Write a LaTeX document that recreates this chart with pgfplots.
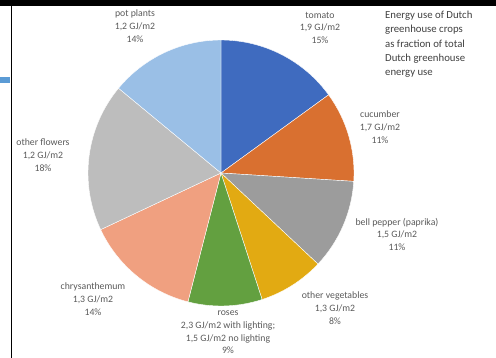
\documentclass[border=0pt]{standalone}
\usepackage{pgfplots}
\pgfplotsset{compat=1.18}
\usepackage{fontspec}
\setmainfont{Carlito}
\definecolor{cTom}{HTML}{3F6BBF}
\definecolor{cCuc}{HTML}{D97030}
\definecolor{cPep}{HTML}{9C9C9C}
\definecolor{cVeg}{HTML}{E2AA12}
\definecolor{cRos}{HTML}{63A040}
\definecolor{cChr}{HTML}{F0A080}
\definecolor{cFlo}{HTML}{BDBDBD}
\definecolor{cPot}{HTML}{9ABFE6}
\definecolor{lab}{HTML}{5A5A5A}
\definecolor{ttl}{HTML}{404040}
\definecolor{sidebar}{HTML}{5B9BD5}
\begin{document}
\begin{tikzpicture}
\begin{axis}[
  width=496bp, height=358bp, scale only axis,
  xmin=0, xmax=496, ymin=0, ymax=358, y dir=reverse,
  hide axis, clip=false,
]
% frame elements
\fill[black] (axis cs:0,0) rectangle (axis cs:496,6);
\fill[black] (axis cs:10.8,6) rectangle (axis cs:12.2,358);
\fill[sidebar] (axis cs:0,77) rectangle (axis cs:10,83);
% pie: cumulative shares in percent, clockwise from 12 o'clock
% tomato 15, cucumber 11, bell pepper 11, other veg 8, roses 9, chrysanthemum 14, other flowers 18, pot plants 14
\def\R{133bp}
\newcommand\slice[3]{%
  \fill[#3, draw=white, line width=0.4pt] (axis cs:221,173) -- ++({90-3.6*(#1)}:\R)
     arc[start angle={90-3.6*(#1)}, end angle={90-3.6*(#2)}, radius=\R] -- cycle;}
\slice{0}{15}{cTom}
\slice{15}{26}{cCuc}
\slice{26}{37}{cPep}
\slice{37}{45}{cVeg}
\slice{45}{54}{cRos}
\slice{54}{68}{cChr}
\slice{68}{86}{cFlo}
\slice{86}{100}{cPot}
% labels
\tikzset{lbl/.style={text=lab, font=\fontsize{9.8}{12.6}\selectfont, align=center, anchor=north, inner sep=0pt}}
\node[lbl] at (axis cs:135,10) {pot plants\\1,2 GJ/m2\\14\%};
\node[lbl] at (axis cs:320,12) {tomato\\1,9 GJ/m2\\15\%};
\node[lbl] at (axis cs:380,111) {cucumber\\1,7 GJ/m2\\11\%};
\node[lbl] at (axis cs:397,218) {bell pepper (paprika)\\1,5 GJ/m2\\11\%};
\node[lbl] at (axis cs:335,292) {other vegetables\\1,3 GJ/m2\\8\%};
\node[lbl] at (axis cs:228,311) {roses\\2,3 GJ/m2 with lighting;\\1,5 GJ/m2 no lighting\\9\%};
\node[lbl] at (axis cs:93,283) {chrysanthemum\\1,3 GJ/m2\\14\%};
\node[lbl] at (axis cs:43,139) {other flowers\\1,2 GJ/m2\\18\%};
\node[text=ttl, font=\fontsize{10.8}{14.3}\selectfont, align=left, anchor=north west, inner sep=0pt] at (axis cs:385,11) {Energy use of Dutch\\greenhouse crops\\as fraction of total\\Dutch greenhouse\\energy use};
\end{axis}
\end{tikzpicture}
\end{document}
